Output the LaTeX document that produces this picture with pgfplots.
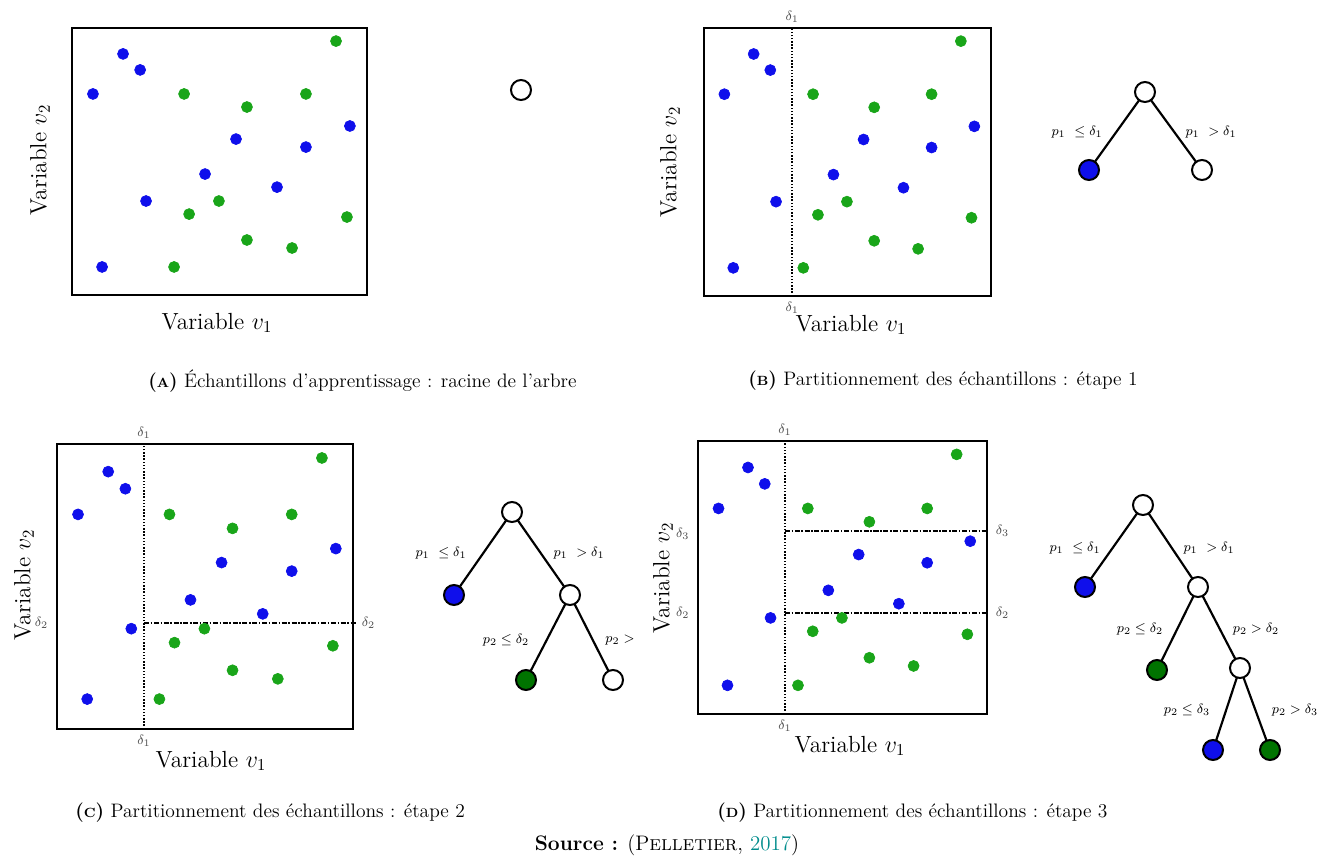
\documentclass[border=0pt]{standalone}
\usepackage{pgfplots}
\usepackage{pgfplotstable}
\pgfplotsset{compat=1.18}

\definecolor{ptblue}{RGB}{15,15,235}
\definecolor{ptgreen}{RGB}{25,165,25}
\definecolor{leafgreen}{RGB}{0,115,0}
\definecolor{citeteal}{RGB}{0,140,140}

% training samples, box-relative coordinates (0..1)
\pgfplotstableread{
x     y
0.173 0.903
0.231 0.843
0.071 0.753
0.556 0.584
0.793 0.554
0.942 0.633
0.451 0.453
0.695 0.404
0.251 0.352
0.102 0.105
}\bluepts
\pgfplotstableread{
x     y
0.895 0.951
0.380 0.753
0.793 0.753
0.593 0.704
0.498 0.352
0.397 0.303
0.932 0.292
0.593 0.206
0.746 0.176
0.346 0.105
}\greenpts

\pgfplotsset{
  panel/.style={scale only axis, anchor=south west,
    xmin=0, xmax=1, ymin=0, ymax=1,
    xtick=\empty, ytick=\empty, clip=false,
    axis line style={line width=1.3pt}},
  pts/.style={only marks, mark=*, mark size=3.3pt, mark options={draw=#1, fill=#1}},
  split/.style={black, line width=0.9pt, no marks},
  edge/.style={black, line width=1.3pt, no marks},
  tnode/.style={only marks, mark=*, mark size=6pt,
    mark options={draw=black, line width=1.2pt, fill=#1}},
}
\tikzset{
  dlab/.style={font=\footnotesize, text=black!70},
  tlab/.style={font=\footnotesize},
}
\newcommand{\samples}{%
  \addplot[pts=ptblue] table {\bluepts};
  \addplot[pts=ptgreen] table {\greenpts};
}

\begin{document}
\begin{tikzpicture}
\path[use as bounding box] (0,0) rectangle (800.4pt,-516pt);

% (A)
\begin{axis}[panel, at={(43.2pt,-177pt)}, width=177pt, height=160.2pt]
  \samples
\end{axis}

% (B)
\begin{axis}[panel, at={(422.4pt,-177.6pt)}, width=172.2pt, height=160.8pt]
  \addplot[split, densely dotted] coordinates {(0.307,0) (0.307,1)};
  \samples
  \node[dlab, anchor=south] at (axis cs:0.307,1) {$\delta_1$};
  \node[dlab, anchor=north] at (axis cs:0.307,0) {$\delta_1$};
\end{axis}

% (C)
\begin{axis}[panel, at={(34.2pt,-437.4pt)}, width=177.6pt, height=171pt]
  \addplot[split, densely dotted] coordinates {(0.294,0) (0.294,1)};
  \addplot[split, densely dashdotted] coordinates {(0.294,0.372) (1.01,0.372)};
  \samples
  \node[dlab, anchor=south] at (axis cs:0.294,1) {$\delta_1$};
  \node[dlab, anchor=north] at (axis cs:0.294,0) {$\delta_1$};
  \node[dlab, anchor=east] at (axis cs:-0.01,0.372) {$\delta_2$};
  \node[dlab, anchor=west] at (axis cs:1.01,0.372) {$\delta_2$};
\end{axis}

% (D)
\begin{axis}[panel, at={(418.8pt,-428.4pt)}, width=173.4pt, height=163.8pt]
  \addplot[split, densely dotted] coordinates {(0.301,0) (0.301,1)};
  \addplot[split, densely dashdotted] coordinates {(0.301,0.670) (1,0.670)};
  \addplot[split, densely dashdotted] coordinates {(0.301,0.370) (1,0.370)};
  \samples
  \node[dlab, anchor=south] at (axis cs:0.301,1) {$\delta_1$};
  \node[dlab, anchor=north] at (axis cs:0.301,0) {$\delta_1$};
  \node[dlab, anchor=east] at (axis cs:-0.01,0.66) {$\delta_3$};
  \node[dlab, anchor=west] at (axis cs:1.01,0.67) {$\delta_3$};
  \node[dlab, anchor=east] at (axis cs:-0.01,0.37) {$\delta_2$};
  \node[dlab, anchor=west] at (axis cs:1.01,0.37) {$\delta_2$};
\end{axis}

% overlay in pixel coordinates of the figure: trees, labels, captions
\begin{axis}[at={(0pt,0pt)}, anchor=north west, scale only axis,
  width=800.4pt, height=516pt, xmin=0, xmax=1334, ymin=0, ymax=860,
  y dir=reverse, hide axis, clip=false]

  % axis titles
  \begin{scope}[every node/.style={font=\fontsize{14}{16}\selectfont}]
    \node at (axis cs:217,323) {Variable $v_1$};
    \node[rotate=90] at (axis cs:40,160) {Variable $v_2$};
    \node at (axis cs:851,325) {Variable $v_1$};
    \node[rotate=90] at (axis cs:670,162) {Variable $v_2$};
    \node at (axis cs:211,761) {Variable $v_1$};
    \node[rotate=90] at (axis cs:24,585) {Variable $v_2$};
    \node at (axis cs:850,746) {Variable $v_1$};
    \node[rotate=90] at (axis cs:663,578) {Variable $v_2$};
  \end{scope}

  % tree (A): root only
  \addplot[tnode=white] coordinates {(521,90)};

  % tree (B)
  \addplot[edge] coordinates {(1145,92) (1089,170)};
  \addplot[edge] coordinates {(1145,92) (1202,170)};
  \addplot[tnode=white] coordinates {(1145,92) (1202,170)};
  \addplot[tnode=ptblue] coordinates {(1089,170)};
  \node[tlab] at (axis cs:1077,132) {$p_1\ \leq\delta_1$};
  \node[tlab] at (axis cs:1211,132) {$p_1\ >\delta_1$};

  % tree (C)
  \addplot[edge] coordinates {(512,512) (454,595)};
  \addplot[edge] coordinates {(512,512) (570,595)};
  \addplot[edge] coordinates {(570,595) (526,680)};
  \addplot[edge] coordinates {(570,595) (613,680)};
  \addplot[tnode=white] coordinates {(512,512) (570,595) (613,680)};
  \addplot[tnode=ptblue] coordinates {(454,595)};
  \addplot[tnode=leafgreen] coordinates {(526,680)};
  \node[tlab] at (axis cs:441,553) {$p_1\ \leq\delta_1$};
  \node[tlab] at (axis cs:579,553) {$p_1\ >\delta_1$};
  \node[tlab] at (axis cs:506,640) {$p_2\leq\delta_2$};
  \node[tlab] at (axis cs:620,640) {$p_2>$};

  % tree (D)
  \addplot[edge] coordinates {(1143,505) (1085,587)};
  \addplot[edge] coordinates {(1143,505) (1198,587)};
  \addplot[edge] coordinates {(1198,587) (1157,670)};
  \addplot[edge] coordinates {(1198,587) (1240,668)};
  \addplot[edge] coordinates {(1240,668) (1213,750)};
  \addplot[edge] coordinates {(1240,668) (1270,750)};
  \addplot[tnode=white] coordinates {(1143,505) (1198,587) (1240,668)};
  \addplot[tnode=ptblue] coordinates {(1085,587) (1213,750)};
  \addplot[tnode=leafgreen] coordinates {(1157,670) (1270,750)};
  \node[tlab] at (axis cs:1075,548) {$p_1\ \leq\delta_1$};
  \node[tlab] at (axis cs:1209,548) {$p_1\ >\delta_1$};
  \node[tlab] at (axis cs:1140,629) {$p_2\leq\delta_2$};
  \node[tlab] at (axis cs:1256,629) {$p_2>\delta_2$};
  \node[tlab] at (axis cs:1187,710) {$p_2\leq\delta_3$};
  \node[tlab] at (axis cs:1295,710) {$p_2>\delta_3$};

  % sub-captions and source
  \begin{scope}[every node/.style={font=\fontsize{11.7}{14}\selectfont, anchor=west, inner sep=0pt}]
    \node at (axis cs:148,381) {\textbf{({\footnotesize A})} Échantillons d’apprentissage : racine de l’arbre};
    \node at (axis cs:748,381) {\textbf{({\footnotesize B})} Partitionnement des échantillons : étape 1};
    \node at (axis cs:75,813) {\textbf{({\footnotesize C})} Partitionnement des échantillons : étape 2};
    \node at (axis cs:717,813) {\textbf{({\footnotesize D})} Partitionnement des échantillons : étape 3};
  \end{scope}
  \node[font=\fontsize{12.6}{15}\selectfont, inner sep=0pt] at (axis cs:667,845)
    {\textbf{Source :} (P\textsc{elletier}, \textcolor{citeteal}{2017})};
\end{axis}
\end{tikzpicture}
\end{document}
